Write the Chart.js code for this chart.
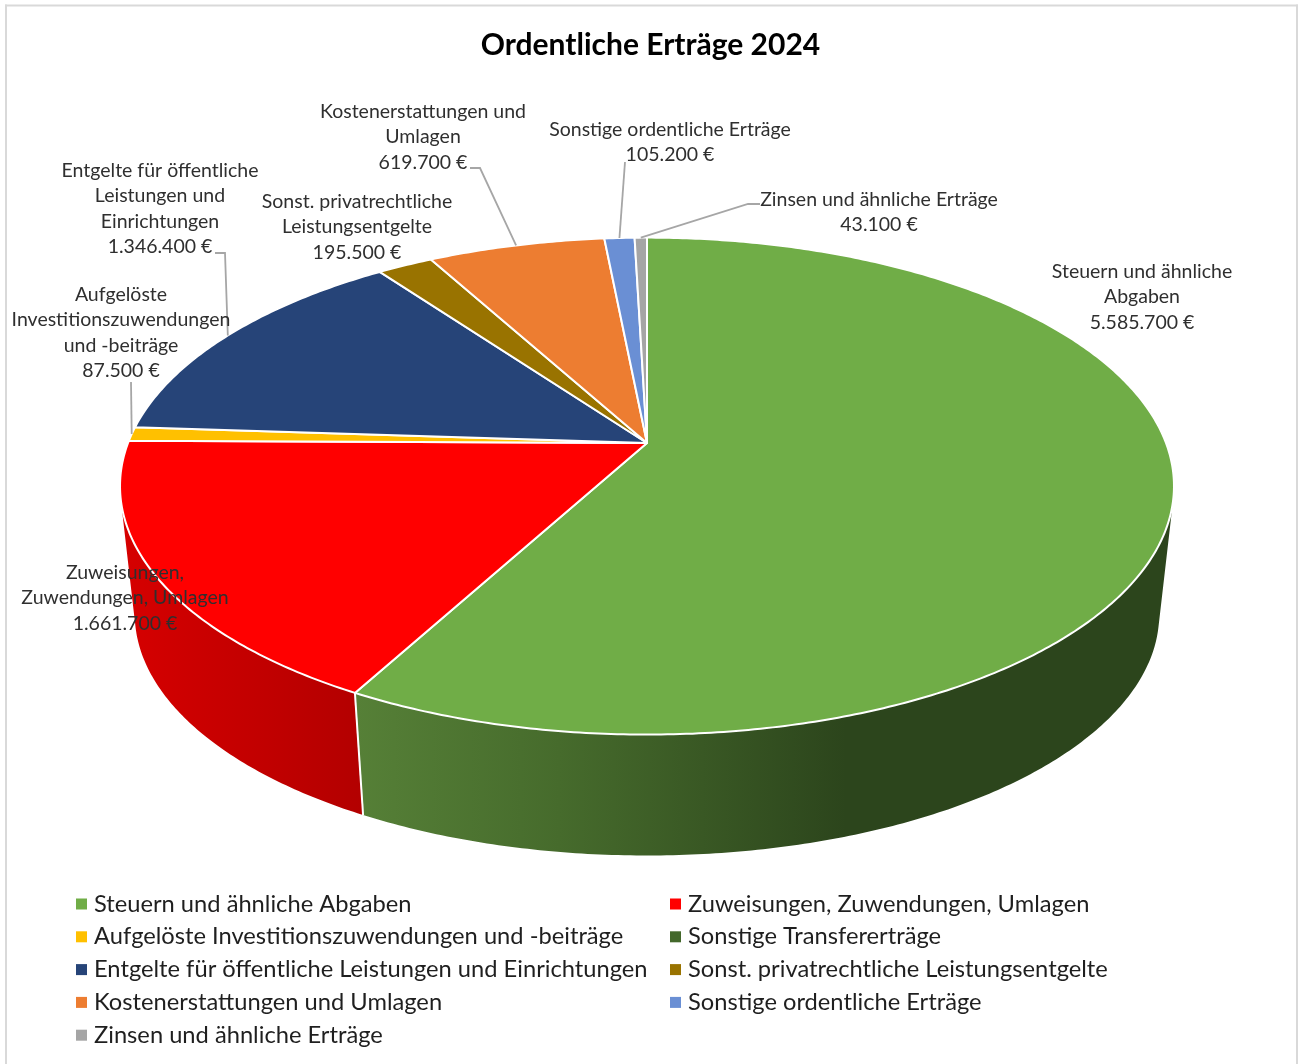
<!DOCTYPE html>
<html lang="de">
<head>
<meta charset="utf-8">
<title>Ordentliche Erträge 2024</title>
<style>
html,body{margin:0;padding:0;background:#fff;}
#wrap{position:relative;width:1304px;height:1064px;overflow:hidden;}
canvas{display:block;}
</style>
<script src="https://cdn.jsdelivr.net/npm/chart.js@4/dist/chart.umd.min.js"></script>
</head>
<body>
<div id="wrap"><canvas id="c" width="1304" height="1064"></canvas></div>
<script>
const chartTitle = 'Ordentliche Erträge 2024';
const categories = [
  'Steuern und ähnliche Abgaben',
  'Zuweisungen, Zuwendungen, Umlagen',
  'Aufgelöste Investitionszuwendungen und -beiträge',
  'Sonstige Transfererträge',
  'Entgelte für öffentliche Leistungen und Einrichtungen',
  'Sonst. privatrechtliche Leistungsentgelte',
  'Kostenerstattungen und Umlagen',
  'Sonstige ordentliche Erträge',
  'Zinsen und ähnliche Erträge'
];
const values = [5585700, 1661700, 87500, 0, 1346400, 195500, 619700, 105200, 43100];
const colors = ['#70ad47','#ff0000','#ffc000','#43682b','#264478','#997300','#ed7d31','#6a8fd4','#a5a5a5'];
const labelLines = [
  ['Steuern und ähnliche','Abgaben'],
  ['Zuweisungen,','Zuwendungen, Umlagen'],
  ['Aufgelöste','Investitionszuwendungen','und -beiträge'],
  [],
  ['Entgelte für öffentliche','Leistungen und','Einrichtungen'],
  ['Sonst. privatrechtliche','Leistungsentgelte'],
  ['Kostenerstattungen und','Umlagen'],
  ['Sonstige ordentliche Erträge'],
  ['Zinsen und ähnliche Erträge']
];

// label placement: centre x, first-line y, line step
const labelPlace = [
  {x:1142,y:271.5,step:25.5},
  {x:125,y:572.5,step:25.5},
  {x:121,y:294.5,step:25.5},
  null,
  {x:160,y:170.5,step:25.5},
  {x:357,y:201.5,step:25.5},
  {x:423,y:111.5,step:25.5},
  {x:670,y:129.5,step:25.5},
  {x:879,y:199.5,step:25.5}
];
// leader polylines start at the label, the last point is the slice's own rim midpoint
const leaders = {
  2:[[131,382]],
  4:[[215,253],[225,253]],
  6:[[470,168],[480,168]],
  7:[[625,162]],
  8:[[760,204],[748,204]]
};
const wallGradients = {
  0:{from:355,to:1173,stops:[[0,'#568037'],[0.25,'#466b2c'],[0.6,'#2c451c'],[1,'#2c451c']]},
  1:{from:122,to:362,stops:[[0,'#d60000'],[1,'#b30000']]}
};
const CX_SHIFT = -3.5, A_PX = 519, B_PX = 241, PERSP = 0.1734;
const BOTTOM = {scale:0.972, vanishY:5054};

function fmt(v){ return new Intl.NumberFormat('de-DE').format(v) + ' €'; }

const pie3d = {
  id:'pie3d',
  beforeDatasetsDraw(chart){
    const ctx = chart.ctx;
    const arcs = chart.getDatasetMeta(0).data;
    const a0 = arcs[0];
    const cx = a0.x + CX_SHIFT, cy = a0.y;
    const top = t => {
      const X=Math.cos(t), Y=Math.sin(t), w=1-PERSP*Y;
      return [cx+A_PX*X/w, cy+B_PX*Y/w];
    };
    const bot = t => {
      const p=top(t);
      return [cx+(p[0]-cx)*BOTTOM.scale, BOTTOM.vanishY+(p[1]-BOTTOM.vanishY)*BOTTOM.scale];
    };
    // side walls: one path per slice so the gradient has no seams
    [1,0].forEach(i=>{
      const el=arcs[i], g=wallGradients[i];
      const grad=ctx.createLinearGradient(g.from,0,g.to,0);
      g.stops.forEach(s=>grad.addColorStop(s[0],s[1]));
      ctx.fillStyle=grad;
      const n=Math.ceil((el.endAngle-el.startAngle)/0.01);
      ctx.beginPath();
      for(let k=0;k<n;k++){
        const t0=el.startAngle+(el.endAngle-el.startAngle)*k/n;
        const t1=el.startAngle+(el.endAngle-el.startAngle)*(k+1)/n;
        let p=[top(t0),top(t1),bot(t1),bot(t0)];
        let area=0;
        for(let j=0;j<4;j++){const q=p[(j+1)%4]; area+=p[j][0]*q[1]-q[0]*p[j][1];}
        if(area<0) p=p.reverse();
        ctx.moveTo(p[0][0],p[0][1]);
        for(let j=1;j<4;j++) ctx.lineTo(p[j][0],p[j][1]);
        ctx.closePath();
      }
      ctx.fill('nonzero');
    });
    // divider on the wall
    const tD=arcs[0].endAngle, pT=top(tD), pB=bot(tD);
    ctx.strokeStyle='#fff'; ctx.lineWidth=2;
    ctx.beginPath(); ctx.moveTo(pT[0],pT[1]); ctx.lineTo(pB[0],pB[1]); ctx.stroke();
    // top faces
    ctx.lineJoin='round';
    arcs.forEach((el,i)=>{
      if(el.endAngle-el.startAngle<=0) return;
      const n=Math.max(2,Math.ceil((el.endAngle-el.startAngle)/0.01));
      ctx.beginPath(); ctx.moveTo(cx,cy);
      for(let k=0;k<=n;k++){
        const p=top(el.startAngle+(el.endAngle-el.startAngle)*k/n);
        ctx.lineTo(p[0],p[1]);
      }
      ctx.closePath();
      ctx.fillStyle=colors[i]; ctx.fill();
      ctx.strokeStyle='#fff'; ctx.lineWidth=2; ctx.stroke();
    });
    chart.$top=top;
  },
  beforeDatasetDraw(){ return false; },
  afterDraw(chart){
    const ctx=chart.ctx, arcs=chart.getDatasetMeta(0).data, top=chart.$top;
    // leader lines
    ctx.strokeStyle='#a6a6a6'; ctx.lineWidth=1.8; ctx.lineJoin='miter';
    Object.keys(leaders).forEach(k=>{
      const el=arcs[k], end=top((el.startAngle+el.endAngle)/2), pts=leaders[k];
      ctx.beginPath(); ctx.moveTo(pts[0][0],pts[0][1]);
      pts.slice(1).forEach(p=>ctx.lineTo(p[0],p[1]));
      ctx.lineTo(end[0],end[1]); ctx.stroke();
    });
    // data labels
    ctx.textAlign='center'; ctx.textBaseline='middle';
    ctx.font='19.5px Lato'; ctx.fillStyle='#2f2f2f';
    labelLines.forEach((lines,i)=>{
      const pl=labelPlace[i]; if(!pl) return;
      lines.concat(fmt(values[i])).forEach((s,j)=>ctx.fillText(s,pl.x,pl.y+j*pl.step));
    });
    // legend in two columns
    ctx.textAlign='left'; ctx.font='23.7px Lato';
    categories.forEach((c,i)=>{
      const col=i%2, row=Math.floor(i/2);
      const x=col?670:76, y=904+row*32.8;
      ctx.fillStyle=colors[i]; ctx.fillRect(x,y-5.5,11,11);
      ctx.fillStyle='#1f1f1f'; ctx.fillText(c,x+18,y);
    });
  }
};

const frame = {
  id:'frame',
  beforeDraw(chart){
    const ctx=chart.ctx;
    ctx.save();
    ctx.fillStyle='#fff'; ctx.fillRect(0,0,chart.width,chart.height);
    ctx.fillStyle='#d9d9d9';
    ctx.fillRect(5,4.5,1293,2);
    ctx.fillRect(5,4.5,2,chart.height);
    ctx.fillRect(1296,4.5,2,chart.height);
    ctx.restore();
  }
};

new Chart(document.getElementById('c'),{
  type:'pie',
  data:{labels:categories,datasets:[{data:values,backgroundColor:colors}]},
  options:{
    responsive:false,animation:false,
    layout:{padding:{left:0,right:3,top:0,bottom:241}},
    plugins:{
      legend:{display:false},
      tooltip:{enabled:false},
      title:{display:true,text:chartTitle,color:'#000',
        font:{family:'Lato',size:30,weight:'bold',lineHeight:1.2},
        padding:{top:27,bottom:0}}
    }
  },
  plugins:[frame,pie3d]
});
</script>
</body>
</html>
